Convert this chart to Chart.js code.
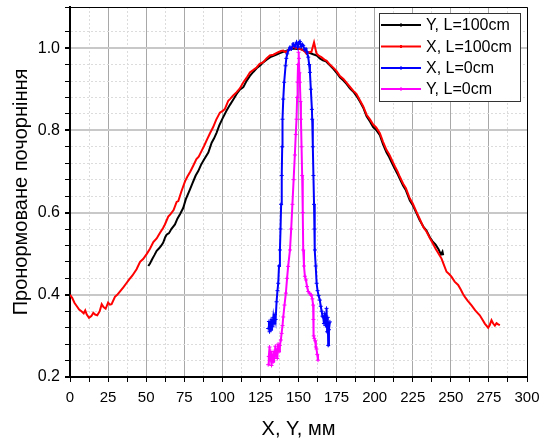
<!DOCTYPE html>
<html>
<head>
<meta charset="utf-8">
<script src="https://cdn.jsdelivr.net/npm/chart.js@4"></script>
<style>
  body { margin: 0; background: #fff; }
</style>
</head>
<body>
<canvas id="graph" width="540" height="441"></canvas>
<script>
// Y, L=100cm (black)
const yFarX = [51.4, 52.5, 54, 55.5, 56.9, 58.5, 60, 61.2, 62.5, 63.4, 65, 66.5, 68.9, 70.5, 72.2, 74.3, 76, 78.7, 80.5, 82.5,
  84.2, 86, 88, 90.8, 93, 94.5, 96.2, 98, 100, 102.8, 105, 107.2, 109.5, 111.5, 113.8, 116, 118, 120.3, 122.5, 125,
  127, 129.1, 131.5, 134, 136, 137.8, 140, 142, 144.4, 147, 149, 150.9, 153, 155, 157.5, 159.6, 162, 164, 166, 168,
  170.6, 173, 175, 177.2, 179.5, 181.5, 183.7, 186, 188, 190.3, 192.5, 194.7, 197, 199, 201, 203.4, 205.5, 207.8, 209.5, 211.5,
  213.3, 215, 216.5, 218.7, 220.5, 223.1, 225, 227.5, 229.5, 231.9, 234, 236.2, 238, 240, 242, 243.5, 244.5, 245];
const yFarY = [0.470, 0.476, 0.487, 0.497, 0.507, 0.513, 0.520, 0.527, 0.540, 0.546, 0.550, 0.560, 0.571, 0.585, 0.596, 0.611, 0.632, 0.656, 0.672, 0.690,
  0.701, 0.716, 0.729, 0.746, 0.770, 0.780, 0.794, 0.812, 0.828, 0.848, 0.862, 0.875, 0.889, 0.899, 0.905, 0.921, 0.932, 0.942, 0.951, 0.958,
  0.966, 0.972, 0.978, 0.982, 0.985, 0.988, 0.991, 0.993, 0.997, 0.999, 0.998, 0.999, 0.995, 0.992, 0.988, 0.985, 0.982, 0.975, 0.970, 0.968,
  0.958, 0.949, 0.940, 0.929, 0.921, 0.913, 0.902, 0.894, 0.884, 0.870, 0.855, 0.834, 0.821, 0.808, 0.801, 0.788, 0.766, 0.746, 0.735, 0.719,
  0.706, 0.694, 0.682, 0.665, 0.654, 0.629, 0.618, 0.598, 0.582, 0.566, 0.556, 0.540, 0.530, 0.522, 0.510, 0.498, 0.505, 0.496];

// X, L=100cm (red)
const xFarX = [0, 1.5, 3, 4.5, 6, 7.5, 9, 10, 11, 12.5, 14, 15.3, 16.5, 17.9, 19.5, 20.8, 22, 23.4, 25, 26.2,
  27.3, 29.5, 31, 33, 35, 37, 39, 41, 43.7, 46, 48, 50.3, 52.5, 54.7, 56.9, 59, 61, 62.3, 64.5, 66,
  68, 70, 71.1, 73, 75.5, 77, 79, 80.9, 83, 84.5, 86.4, 88, 90, 91.9, 94, 96, 98.4, 100.5, 101.7, 103.9,
  105, 107, 109.4, 111.5, 113.8, 116, 118.1, 120, 122.5, 124.5, 126.9, 129, 131.2, 133.5, 136.7, 138.5, 140, 141.5, 143.2, 145,
  146.5, 148.5, 150.9, 152.5, 154, 155.3, 157, 158.5, 160.2, 161.8, 163.5, 165, 167, 168.5, 170.6, 173, 175, 177.2, 179.5, 181.5,
  183.7, 186, 188, 190.3, 192.5, 194.7, 197, 199, 201, 203.4, 205.5, 207.8, 209.5, 211.5, 213.3, 215, 216.5, 218.7, 220.5, 223.1,
  225, 227.5, 229.5, 231.9, 234, 236.2, 238.3, 240, 242, 243.9, 245.5, 247.2, 249, 250.4, 252.5, 254.8, 256.5, 258, 259.2, 261,
  263.6, 266, 269, 271, 272.3, 274.5, 275.5, 276.7, 277.8, 278.9, 280, 281.1, 282.2];
const xFarY = [0.400, 0.392, 0.380, 0.372, 0.364, 0.360, 0.355, 0.362, 0.352, 0.344, 0.348, 0.356, 0.352, 0.350, 0.360, 0.377, 0.370, 0.366, 0.381, 0.376,
  0.377, 0.395, 0.400, 0.409, 0.418, 0.428, 0.438, 0.447, 0.462, 0.480, 0.487, 0.499, 0.512, 0.528, 0.537, 0.550, 0.562, 0.571, 0.590, 0.596,
  0.606, 0.626, 0.628, 0.650, 0.676, 0.687, 0.700, 0.714, 0.730, 0.736, 0.750, 0.762, 0.778, 0.793, 0.808, 0.826, 0.843, 0.848, 0.852, 0.872,
  0.876, 0.884, 0.893, 0.902, 0.917, 0.928, 0.941, 0.946, 0.953, 0.962, 0.966, 0.975, 0.982, 0.984, 0.990, 0.993, 0.994, 0.990, 0.995, 0.998,
  1.003, 1.000, 0.998, 0.996, 0.992, 0.986, 0.990, 0.991, 1.014, 0.987, 0.981, 0.978, 0.972, 0.969, 0.960, 0.952, 0.944, 0.932, 0.925, 0.916,
  0.906, 0.896, 0.889, 0.873, 0.858, 0.838, 0.826, 0.814, 0.807, 0.793, 0.772, 0.752, 0.742, 0.726, 0.712, 0.700, 0.687, 0.670, 0.659, 0.634,
  0.622, 0.601, 0.585, 0.565, 0.554, 0.538, 0.524, 0.512, 0.500, 0.488, 0.472, 0.456, 0.450, 0.444, 0.432, 0.424, 0.413, 0.402, 0.395, 0.386,
  0.374, 0.362, 0.350, 0.338, 0.330, 0.320, 0.326, 0.338, 0.330, 0.325, 0.331, 0.328, 0.326];

// X, L=0cm (blue)
const xNearX = [130.1, 130.6, 131, 131.5, 132, 132.5, 133, 133.5, 134, 134.5, 135, 135.6, 136.2, 136.7, 137.2, 137.8, 138.2, 138.6, 139, 139.3,
  139.5, 140, 140.6, 141.5, 142, 142.6, 143.5, 144.4, 145.3, 146.5, 147.5, 148.7, 149.5, 150.3, 150.9, 151.8, 152.5, 153.1, 154, 154.9,
  155.6, 156.4, 157, 157.5, 158.1, 158.8, 159, 159.4, 159.8, 160.2, 160.5, 160.8, 161.3, 161.9, 162.5, 163.2, 164, 164.6, 165.2, 165.7,
  166.2, 166.7, 167.2, 167.7, 168.1, 168.4, 168.8, 169.2, 169.5, 170, 170.6];
const xNearY = [0.318, 0.335, 0.310, 0.328, 0.315, 0.340, 0.322, 0.345, 0.330, 0.352, 0.340, 0.383, 0.410, 0.428, 0.470, 0.509, 0.560, 0.620, 0.690, 0.760,
  0.827, 0.876, 0.917, 0.957, 0.975, 0.986, 0.995, 1.002, 0.998, 1.010, 1.004, 1.014, 1.002, 1.012, 1.016, 1.004, 1.009, 1.006, 0.996, 0.998,
  0.990, 0.978, 0.960, 0.941, 0.900, 0.851, 0.827, 0.760, 0.690, 0.620, 0.560, 0.509, 0.470, 0.428, 0.410, 0.398, 0.387, 0.372, 0.360, 0.348,
  0.346, 0.330, 0.355, 0.325, 0.340, 0.367, 0.310, 0.345, 0.277, 0.315, 0.334];

// Y, L=0cm (magenta)
const yNearX = [130.1, 130.5, 131, 131.4, 131.8, 132.3, 132.8, 133.4, 133.9, 134.3, 134.8, 135.3, 135.6, 136.1, 136.6, 137.2, 137.8, 138.4, 138.9, 139.5,
  140, 140.8, 141.7, 142.5, 143.2, 144.4, 145.2, 146, 146.8, 147.6, 148.2, 148.7, 149.1, 149.4, 149.7, 150, 150.3, 150.6, 150.9, 151.3,
  151.6, 152, 152.4, 152.8, 153.1, 153.6, 154.2, 154.9, 155.6, 156.4, 157.2, 158, 158.5, 159.1, 159.6, 159.8, 160, 160.4, 160.9, 161.4,
  161.8, 162.3, 162.8];
const yNearY = [0.230, 0.250, 0.273, 0.240, 0.262, 0.228, 0.250, 0.237, 0.262, 0.245, 0.275, 0.250, 0.265, 0.245, 0.280, 0.262, 0.277, 0.290, 0.306, 0.325,
  0.346, 0.375, 0.404, 0.440, 0.469, 0.509, 0.560, 0.620, 0.680, 0.740, 0.790, 0.827, 0.880, 0.917, 0.960, 0.990, 0.975, 0.940, 0.917, 0.870,
  0.827, 0.760, 0.690, 0.600, 0.509, 0.470, 0.445, 0.436, 0.420, 0.408, 0.404, 0.400, 0.399, 0.390, 0.375, 0.340, 0.300, 0.294, 0.288, 0.273,
  0.268, 0.255, 0.241];

const xTicks = [0, 25, 50, 75, 100, 125, 150, 175, 200, 225, 250, 275, 300];
const yTicks = [0.2, 0.4, 0.6, 0.8, 1.0];

const police = "'Liberation Sans', Arial, sans-serif";

function points(xs, ys) {
    let res = [];
    for (let i = 0; i < xs.length; i++) {
        res.push({ x: xs[i], y: ys[i] });
    }
    return res;
}

function estMajeur(v, liste) {
    return liste.some(t => Math.abs(t - v) < 1e-6);
}

const series = [
    { label: "Y, L=100cm", data: points(yFarX, yFarY), color: "#000000", order: 3, marker: false },
    { label: "X, L=100cm", data: points(xFarX, xFarY), color: "#ff0000", order: 2, marker: false },
    { label: "X, L=0cm", data: points(xNearX, xNearY), color: "#0000ff", order: 1, marker: true },
    { label: "Y, L=0cm", data: points(yNearX, yNearY), color: "#ff00ff", order: 0, marker: true }
];

// legend box and frame drawn by hand
const cadre = {
    id: "cadre",
    afterDraw(chart) {
        const ctx = chart.ctx;
        const a = chart.chartArea;
        ctx.save();
        ctx.strokeStyle = "#000";
        ctx.lineWidth = 1;
        ctx.beginPath();
        ctx.moveTo(a.left, a.top + 0.5);
        ctx.lineTo(a.right + 0.5, a.top + 0.5);
        ctx.lineTo(a.right + 0.5, a.bottom);
        ctx.stroke();

        // legend
        const bx = 379, by = 13, bw = 141, bh = 88;
        ctx.fillStyle = "#fff";
        ctx.fillRect(bx, by, bw, bh);
        ctx.strokeStyle = "#333";
        ctx.strokeRect(bx + 0.5, by + 0.5, bw, bh);
        ctx.font = "16px " + police;
        ctx.textBaseline = "middle";
        const lignes = [25, 46.5, 68, 89];
        series.forEach((s, i) => {
            const y = lignes[i];
            ctx.strokeStyle = s.color;
            ctx.lineWidth = 2;
            ctx.beginPath();
            ctx.moveTo(381, y);
            ctx.lineTo(421, y);
            ctx.stroke();
            ctx.fillStyle = s.color;
            ctx.fillRect(400, y - 1.5, 2, 3);
            ctx.fillStyle = "#000";
            ctx.fillText(s.label, 426, y + 1);
        });
        ctx.restore();
    }
};

new Chart(document.getElementById("graph").getContext("2d"), {
    type: "line",
    data: {
        datasets: series.map(s => ({
            label: s.label,
            data: s.data,
            borderColor: s.color,
            backgroundColor: s.color,
            borderWidth: 2,
            pointRadius: s.marker ? 2 : 0,
            pointStyle: "cross",
            pointBorderWidth: 1,
            tension: 0,
            order: s.order
        }))
    },
    options: {
        responsive: false,
        animation: false,
        devicePixelRatio: 1,
        layout: { padding: { top: 7, right: 13, left: 0, bottom: 0 } },
        plugins: { legend: { display: false }, tooltip: { enabled: false } },
        scales: {
            x: {
                type: "linear",
                min: 0,
                max: 300,
                afterFit: function (scale) {
                    scale.height = 64;
                    scale.paddingLeft = 0;
                    scale.paddingRight = 0;
                },
                ticks: {
                    stepSize: 12.5,
                    autoSkip: false,
                    maxRotation: 0,
                    padding: 7,
                    color: "#000",
                    font: { family: police, size: 15 },
                    callback: v => estMajeur(v, xTicks) ? String(v) : ""
                },
                grid: {
                    color: c => estMajeur(c.tick.value, xTicks) ? "#a8a8a8" : "#dcdcdc",
                    lineWidth: 1,
                    tickColor: "#000",
                    tickLength: 5
                },
                border: {
                    color: "#000",
                    width: 2,
                    dash: c => (c.tick && estMajeur(c.tick.value, xTicks)) ? [] : [2, 2]
                },
                title: {
                    display: true,
                    text: "X, Y, мм",
                    color: "#000",
                    font: { family: police, size: 20 },
                    padding: { top: 4, bottom: 0 }
                }
            },
            y: {
                min: 0.2,
                max: 1.1,
                afterFit: function (scale) {
                    scale.width = 70;
                    scale.paddingTop = 0;
                    scale.paddingBottom = 0;
                },
                ticks: {
                    stepSize: 0.04,
                    autoSkip: false,
                    padding: 5,
                    color: "#000",
                    font: { family: police, size: 16 },
                    callback: v => estMajeur(v, yTicks) ? v.toFixed(1) : ""
                },
                grid: {
                    color: c => estMajeur(c.tick.value, yTicks) ? "#c8c8c8" : "#dcdcdc",
                    lineWidth: c => estMajeur(c.tick.value, yTicks) ? 2 : 1,
                    tickColor: "#000",
                    tickLength: 5
                },
                border: {
                    color: "#000",
                    width: 2,
                    dash: c => (c.tick && estMajeur(c.tick.value, yTicks)) ? [] : [2, 2]
                },
                title: {
                    display: true,
                    text: "Пронормоване почорніння",
                    color: "#000",
                    font: { family: police, size: 20 },
                    padding: { top: 9, bottom: 4 }
                }
            }
        }
    },
    plugins: [cadre]
});
</script>
</body>
</html>
